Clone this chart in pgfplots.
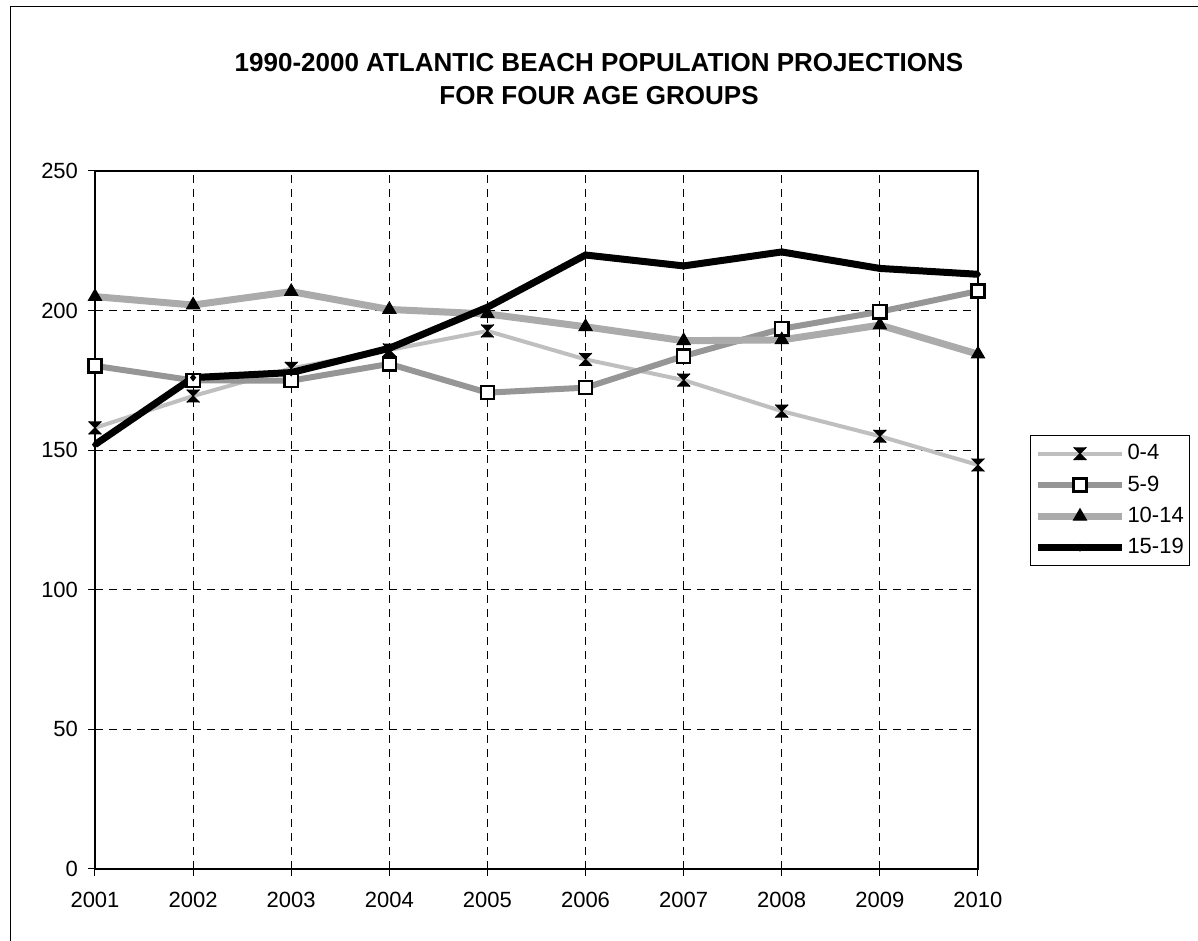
\documentclass[border=0pt]{standalone}
\usepackage{fontspec}
\setmainfont{Liberation Sans}
\usepackage{pgfplots}
\pgfplotsset{compat=1.18}

\pgfdeclareplotmark{hourglass}{%
  \pgfpathmoveto{\pgfqpoint{-\pgfplotmarksize}{\pgfplotmarksize}}%
  \pgfpathlineto{\pgfqpoint{\pgfplotmarksize}{\pgfplotmarksize}}%
  \pgfpathlineto{\pgfqpoint{0pt}{0pt}}%
  \pgfpathclose
  \pgfpathmoveto{\pgfqpoint{-\pgfplotmarksize}{-\pgfplotmarksize}}%
  \pgfpathlineto{\pgfqpoint{\pgfplotmarksize}{-\pgfplotmarksize}}%
  \pgfpathlineto{\pgfqpoint{0pt}{0pt}}%
  \pgfpathclose
  \pgfusepathqfill
  \pgfsetlinewidth{0.5pt}%
  \pgfpathmoveto{\pgfqpoint{-\pgfplotmarksize}{-\pgfplotmarksize}}%
  \pgfpathlineto{\pgfqpoint{\pgfplotmarksize}{\pgfplotmarksize}}%
  \pgfpathmoveto{\pgfqpoint{-\pgfplotmarksize}{\pgfplotmarksize}}%
  \pgfpathlineto{\pgfqpoint{\pgfplotmarksize}{-\pgfplotmarksize}}%
  \pgfusepathqstroke
}

\begin{document}
\begin{tikzpicture}
\useasboundingbox (0,0) rectangle (599pt,470.5pt);
\draw[line width=0.5pt] (5pt,0) -- (5pt,467pt) -- (599pt,467pt);
\node[align=center, font=\bfseries\fontsize{13}{16.5}\selectfont] at (299.5pt,431pt)
  {1990-2000 ATLANTIC BEACH POPULATION PROJECTIONS\\FOR FOUR AGE GROUPS};
\begin{axis}[
  at={(47.5pt,36pt)}, anchor=south west,
  scale only axis,
  width=441.5pt, height=349pt,
  xmin=2001, xmax=2010,
  ymin=0, ymax=250,
  xtick={2001,2002,...,2010},
  ytick={0,50,...,250},
  xtick pos=lower, ytick pos=left,
  /pgf/number format/1000 sep={},
  /pgf/number format/assume math mode=true,
  tick label style={font=\fontsize{11}{13}\selectfont},
  yticklabel style={xshift=-1.5pt},
  xticklabel style={yshift=-4.5pt},
  tick align=outside,
  major tick length=3.5pt,
  tick style={black, line width=0.5pt},
  axis line style={line width=1pt},
  grid=major,
  major grid style={black, line width=0.5pt, dash pattern=on 4pt off 3pt},
  legend style={at={(1.0589,0.6218)}, anchor=north west, draw=black,
    line width=0.5pt, font=\fontsize{11}{13}\selectfont,
    inner xsep=2pt, inner ysep=2.5pt, row sep=2.5pt,
    nodes={inner xsep=1pt}},
  legend cell align=left,
  legend image code/.code={\draw[mark repeat=2,mark phase=2,#1] plot coordinates {(0pt,0pt) (21pt,0pt) (42pt,0pt)};},
]
\addplot[black!25, line width=2pt, mark=hourglass, mark size=3.2pt,
  mark options={black, fill=black}] coordinates {
  (2001,158) (2002,169.4) (2003,179.3) (2004,185.9) (2005,192.7)
  (2006,182.5) (2007,175.1) (2008,164) (2009,155) (2010,144.7)};
\addlegendentry{0-4}
\addplot[black!41, line width=3pt, mark=square*, mark size=3.3pt,
  mark options={draw=black, fill=white, line width=1.2pt}] coordinates {
  (2001,180.2) (2002,175) (2003,174.9) (2004,180.9) (2005,170.6)
  (2006,172.4) (2007,183.7) (2008,193.5) (2009,199.6) (2010,207)};
\addlegendentry{5-9}
\addplot[black!33, line width=3.5pt, mark=triangle*, mark size=3.8pt,
  mark options={black, fill=black, line width=0.5pt}] coordinates {
  (2001,205) (2002,202) (2003,206.8) (2004,200.4) (2005,198.8)
  (2006,194.2) (2007,189.2) (2008,189.5) (2009,194.8) (2010,184.4)};
\addlegendentry{10-14}
\addplot[black, line width=3.5pt, mark=diamond*, mark size=1.6pt,
  mark options={black, fill=black, line width=0.5pt}] coordinates {
  (2001,152) (2002,176) (2003,177.8) (2004,186.5) (2005,201.2)
  (2006,219.9) (2007,216) (2008,221) (2009,215.1) (2010,213)};
\addlegendentry{15-19}
\end{axis}
\end{tikzpicture}
\end{document}
